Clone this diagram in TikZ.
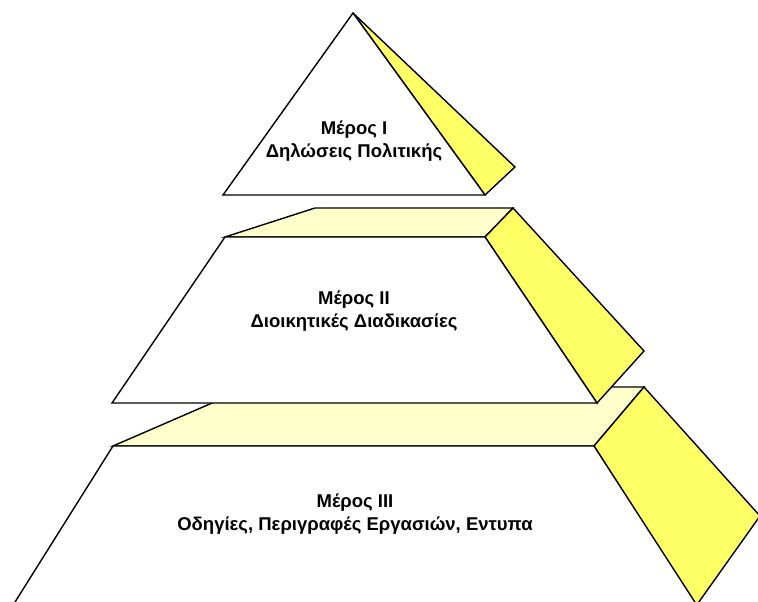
\documentclass[tikz,border=0pt]{standalone}
\usepackage{fontspec}
\setmainfont{Liberation Sans}
\definecolor{lidyellow}{HTML}{FFFFCC}
\definecolor{sideyellow}{HTML}{FFFF66}

\begin{document}
\begin{tikzpicture}[x=1pt,y=-1pt,line width=1.4pt,line join=miter,
    face/.style={fill=white, draw=black},
    lid/.style={fill=lidyellow, draw=black},
    side/.style={fill=sideyellow, draw=black},
    txt/.style={align=center, font={\fontsize{18.5}{23}\selectfont\bfseries}, inner sep=0pt}]
    \useasboundingbox (0,0) rectangle (758,602);
    \clip (0,0) rectangle (758,602);

    % Bottom tier
    \coordinate (c-3-fl) at (113,446);
    \coordinate (c-3-fr) at (594,446);
    \coordinate (c-3-bl) at (249,387);
    \coordinate (c-3-br) at (644,387);
    \draw[lid] (c-3-fl) -- (c-3-bl) -- (c-3-br) -- (c-3-fr) -- cycle;
    \draw[side] (c-3-fr) -- (c-3-br) -- (760,516) -- (696,606) -- cycle;
    \fill[white] (10,610) -- (c-3-fl) -- (c-3-fr) -- (700,610) -- cycle;
    \draw (10,610) -- (c-3-fl) -- (c-3-fr) -- (700,610);

    % Middle tier
    \coordinate (c-2-fl) at (225,237);
    \coordinate (c-2-fr) at (485,237);
    \coordinate (c-2-bl) at (315,208);
    \coordinate (c-2-br) at (513,208);
    \coordinate (c-2-ll) at (112,403);
    \coordinate (c-2-lr) at (597,403);
    \draw[lid] (c-2-fl) -- (c-2-bl) -- (c-2-br) -- (c-2-fr) -- cycle;
    \draw[side] (c-2-fr) -- (c-2-br) -- (644,351) -- (c-2-lr) -- cycle;
    \draw[face] (c-2-fl) -- (c-2-fr) -- (c-2-lr) -- (c-2-ll) -- cycle;

    % Top tier
    \coordinate (c-1-top) at (353,13);
    \coordinate (c-1-l) at (223,195);
    \coordinate (c-1-r) at (485,195);
    \draw[side] (c-1-top) -- (515,167) -- (c-1-r) -- cycle;
    \draw[face] (c-1-top) -- (c-1-r) -- (c-1-l) -- cycle;

    % Labels
    \node[txt] (tier-1) at (354,141) {Μέρος I\\Δηλώσεις Πολιτικής};
    \node[txt] (tier-2) at (354,311) {Μέρος II\\Διοικητικές Διαδικασίες};
    \node[txt] (tier-3) at (355,514) {Μέρος III\\Οδηγίες, Περιγραφές Εργασιών, Εντυπα};
\end{tikzpicture}
\end{document}
